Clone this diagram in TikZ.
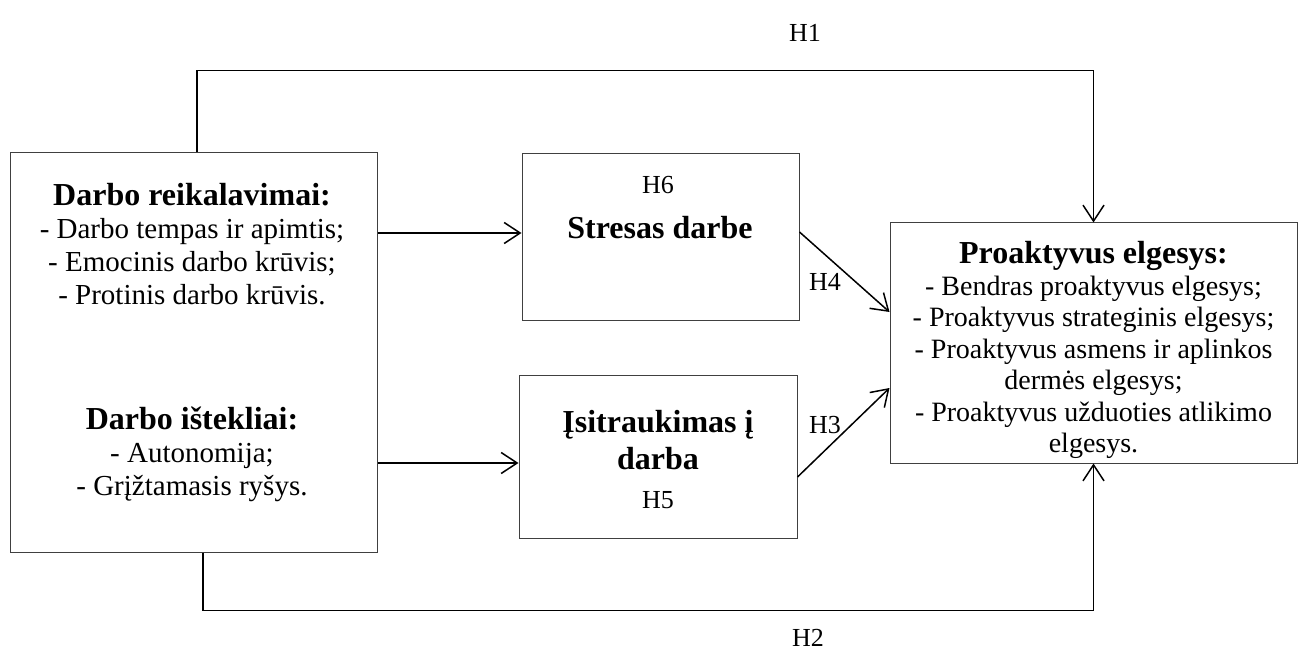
\documentclass[tikz,border=0pt]{standalone}
\usepackage{fontspec}
\setmainfont{Liberation Serif}
\usepackage{tikz}
\usetikzlibrary{calc}
\usetikzlibrary{arrows.meta}
\usetikzlibrary{positioning}

\newcommand{\hd}[1]{{\fontsize{32}{34}\selectfont\bfseries #1}}

\tikzset{
  box/.style  = {draw=black!75, line width=1pt, rectangle, inner sep=0pt},
  lbl/.style  = {align=center, inner sep=0pt, font=\fontsize{29}{33}\selectfont},
  hyp/.style  = {inner sep=0pt, font=\fontsize{26}{30}\selectfont},
  conn/.style = {line width=1.5pt, -{Straight Barb[length=16pt, width=21pt, line width=1.5pt]}}
}

\begin{document}
\begin{tikzpicture}[x=1pt, y=-1pt]
        \useasboundingbox (0,0) rectangle (1303,652);

        \node[box, minimum width=367pt, minimum height=399pt] (darbas) at (193.5, 352.5) {};
        \node[lbl] (reik)  at (192, 244) {\hd{Darbo reikalavimai:}\\- Darbo tempas ir apimtis;\\- Emocinis darbo krūvis;\\- Protinis darbo krūvis.};
        \node[lbl] (istek) at (192, 454) {\hd{Darbo ištekliai:}\\- Autonomija;\\- Grįžtamasis ryšys.};

        \node[box, minimum width=277pt, minimum height=166pt] (stresas) at (660.5, 237) {};
        \node[hyp] (h6)    at (658, 185) {H6};
        \node[lbl] (stres) at (660, 228) {\hd{Stresas darbe}};

        \node[box, minimum width=278pt, minimum height=163pt] (isitr) at (658, 456.5) {};
        \node[lbl] (isit)  at (658, 440) {\hd{Įsitraukimas į}\\[4pt]\hd{darba}};
        \node[hyp] (h5)    at (658, 500) {H5};

        \node[box, minimum width=407pt, minimum height=240pt] (proakt) at (1093.5, 343) {};
        \node[lbl, font=\fontsize{28}{31.5}\selectfont] (proaktxt) at (1093.5, 350)
             {\hd{Proaktyvus elgesys:}\\- Bendras proaktyvus elgesys;\\- Proaktyvus strateginis elgesys;\\- Proaktyvus asmens ir aplinkos\\dermės elgesys;\\- Proaktyvus užduoties atlikimo\\elgesys.};

        \node[hyp] (h1) at (805, 33)  {H1};
        \node[hyp] (h2) at (808, 638) {H2};
        \node[hyp] (h3) at (825, 425) {H3};
        \node[hyp] (h4) at (825, 282) {H4};

        \coordinate (s1) at ([yshift=4pt]stresas.west);
        \coordinate (i1) at ([yshift=-6.5pt]isitr.west);

        \draw[conn] (darbas.east |- s1) -- (s1);
        \draw[conn] (darbas.east |- i1) -- (i1);
        \draw[conn] ([yshift=5pt]stresas.east) -- ([yshift=31pt]proakt.west);
        \draw[conn] ([yshift=-20.5pt]isitr.east) -- ([yshift=-45pt]proakt.west);
        \draw[conn] ([xshift=3.5pt]darbas.north) -- ++(0,-82) -| (proakt.north);
        \draw[conn] ([xshift=9.5pt]darbas.south) -- ++(0,58) -| (proakt.south);
      \end{tikzpicture}
\end{document}
